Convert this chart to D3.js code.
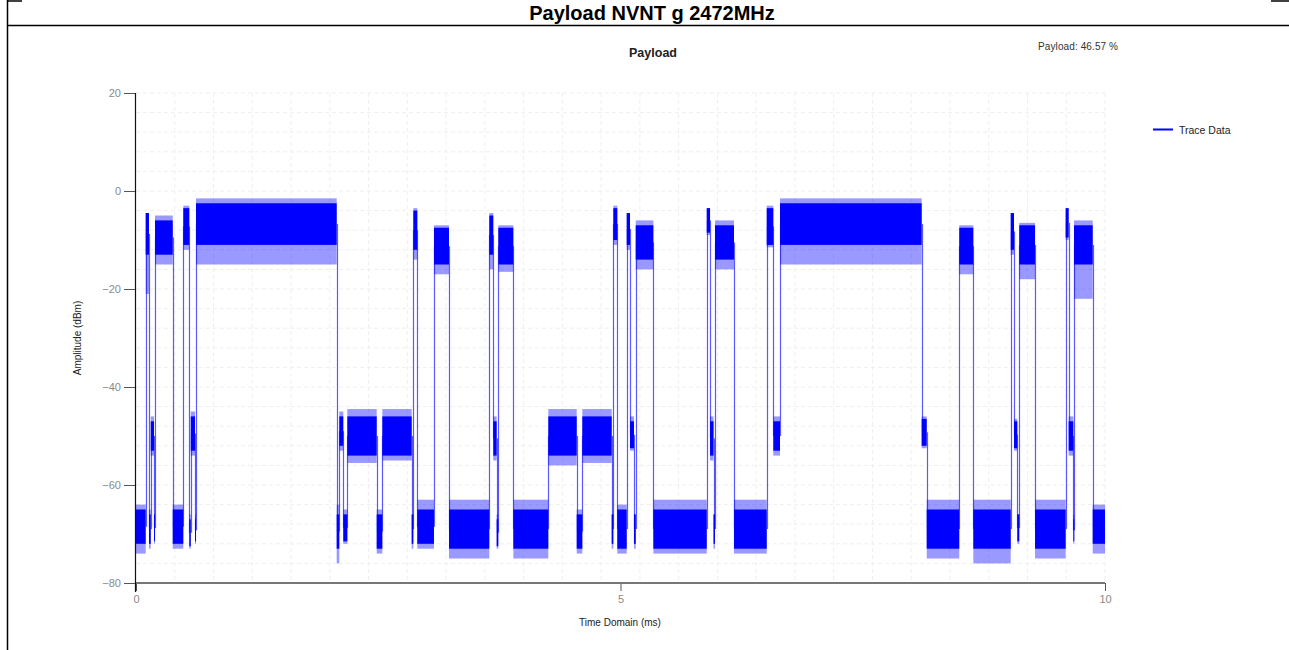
<!DOCTYPE html>
<html>
<head>
<meta charset="utf-8">
<script src="https://cdn.jsdelivr.net/npm/d3@7"></script>
<style>
  body { margin: 0; background: #fff; }
  svg { display: block; font-family: "Liberation Sans", Arial, sans-serif; }
</style>
</head>
<body>
<svg id="canvas" width="1289" height="650"></svg>
<script>
// trace: each one ends at segEnd (ms) and starts where the last ended
const segEnd = [0.100, 0.134, 0.152, 0.186, 0.196, 0.379, 0.488, 0.550, 0.565, 0.609,
    0.619, 2.071, 2.098, 2.139, 2.181, 2.484, 2.542, 2.845, 2.862, 2.903,
    3.075, 3.230, 3.646, 3.687, 3.722, 3.739, 3.894, 4.255, 4.548, 4.606,
    4.909, 4.926, 4.967, 5.064, 5.098, 5.139, 5.157, 5.339, 5.890, 5.924,
    5.960, 5.975, 6.171, 6.509, 6.577, 6.646, 8.108, 8.160, 8.496, 8.641,
    9.027, 9.061, 9.095, 9.115, 9.278, 9.594, 9.625, 9.673, 9.680, 9.873, 10.0];
// outer noise envelope (dBm)
const envHigh = [-64, -4.5, -65, -46, -66, -5, -64, -3, -66, -45,
    -66, -1.5, -64, -45, -65, -44.5, -65, -44.5, -66, -3.5,
    -63, -7, -63, -4.5, -46, -66, -7, -63, -44.5, -65,
    -44.5, -66, -3, -64, -4.5, -46, -66, -6, -63, -3.5,
    -46, -66, -6, -63, -3, -46, -1.5, -46, -63, -7,
    -63, -4.5, -46.5, -66, -6.5, -63, -3.5, -46, -66, -6, -64];
const envLow = [-74, -21, -73, -54, -72, -15, -73, -12, -73, -54,
    -72, -15, -76, -53, -72, -55.5, -74, -55, -73, -14,
    -73, -17, -75, -16, -55, -73, -16.5, -75, -56, -74,
    -55.5, -73, -11, -74, -12, -53, -73, -16, -74, -9,
    -55, -73, -16, -74, -11.5, -54, -15, -52.5, -75, -17,
    -76, -13, -53, -72, -18, -75, -10, -54, -72, -22, -74];
// dense core of the noise (dBm)
const coreHigh = [-65, -4.5, -66, -47, -66, -6, -65, -3.5, -67, -46,
    -67, -2.5, -66, -46, -66, -46, -66, -46, -66, -4,
    -65, -7.5, -65, -5, -47, -67, -7.5, -65, -46, -66,
    -46, -66, -3.5, -65, -4.5, -47, -66, -7, -65, -3.5,
    -47, -66, -7, -65, -3.5, -47, -2.5, -46.5, -65, -7.5,
    -65, -4.5, -47, -66, -7, -65, -3.5, -47, -67, -7, -65];
const coreLow = [-72, -13, -72, -53, -71.5, -13, -72, -11, -72.5, -53,
    -71.5, -11, -73, -52, -71.5, -54, -73, -54, -72, -12,
    -72, -15, -73, -13, -54, -72.5, -15, -73, -54, -73,
    -54, -72, -10, -73, -11, -52.5, -72, -14, -73, -8.5,
    -54, -72, -14, -73, -11, -53, -11, -52, -73, -15,
    -73, -12, -52.5, -71.5, -15, -73, -9.5, -53, -71.5, -15, -72];

const xTicks = [0, 5, 10];
const yTicks = [-80, -60, -40, -20, 0, 20];
const payloadPct = 46.57;

const svg = d3.select("#canvas");
const plotLeft = 136, plotRight = 1105, plotTop = 93, plotBottom = 583;
const blue = "#0000ff";

const x = d3.scaleLinear().domain([0, 10]).range([plotLeft, plotRight]);
const y = d3.scaleLinear().domain([-80, 20]).range([plotBottom, plotTop]);

const segs = segEnd.map((end, i) => ({
    start: i === 0 ? 0 : segEnd[i - 1],
    end: end,
    envHigh: envHigh[i],
    envLow: envLow[i],
    coreHigh: coreHigh[i],
    coreLow: coreLow[i]
}));

// frame
svg.append("line").attr("x1", 7.5).attr("x2", 7.5).attr("y1", 0).attr("y2", 650)
    .attr("stroke", "#000").attr("stroke-width", 1.5);
svg.append("line").attr("x1", 7).attr("x2", 22).attr("y1", 1).attr("y2", 1)
    .attr("stroke", "#000").attr("stroke-width", 1.5);
svg.append("line").attr("x1", 1271).attr("x2", 1289).attr("y1", 1).attr("y2", 1)
    .attr("stroke", "#000").attr("stroke-width", 1.5);
svg.append("line").attr("x1", 7).attr("x2", 1289).attr("y1", 25.5).attr("y2", 25.5)
    .attr("stroke", "#000").attr("stroke-width", 1.5);

svg.append("text").attr("x", 652).attr("y", 20).attr("text-anchor", "middle")
    .attr("font-size", 20).attr("font-weight", "bold").text("Payload NVNT g 2472MHz");
svg.append("text").attr("x", 653).attr("y", 57).attr("text-anchor", "middle")
    .attr("font-size", 12.5).attr("font-weight", "bold").attr("fill", "#222").text("Payload");
svg.append("text").attr("x", 1038).attr("y", 50)
    .attr("font-size", 10).attr("fill", "#333").attr("textLength", 80)
    .text(`Payload: ${payloadPct} %`);

// grid: 25 divisions each way
const grid = svg.append("g").attr("stroke", "#efefef").attr("stroke-dasharray", "4,3");
grid.selectAll(".gx").data(d3.range(1, 26).map((k) => k * 0.4)).enter().append("line")
    .attr("x1", (d) => x(d)).attr("x2", (d) => x(d)).attr("y1", plotTop).attr("y2", plotBottom);
grid.selectAll(".gy").data(d3.range(0, 25).map((k) => 20 - k * 4)).enter().append("line")
    .attr("x1", plotLeft).attr("x2", plotRight).attr("y1", (d) => y(d)).attr("y2", (d) => y(d));

// trace: sparse noise envelope, dense core, edges between bursts
const trace = svg.append("g");
trace.selectAll(".env").data(segs).enter().append("rect")
    .attr("x", (d) => x(d.start)).attr("width", (d) => Math.max(1, x(d.end) - x(d.start)))
    .attr("y", (d) => y(d.envHigh)).attr("height", (d) => y(d.envLow) - y(d.envHigh))
    .attr("fill", blue).attr("opacity", 0.4);
trace.selectAll(".core").data(segs).enter().append("rect")
    .attr("x", (d) => x(d.start)).attr("width", (d) => Math.max(1, x(d.end) - x(d.start)))
    .attr("y", (d) => y(d.coreHigh)).attr("height", (d) => y(d.coreLow) - y(d.coreHigh))
    .attr("fill", blue);
trace.selectAll(".edge").data(segs.slice(1)).enter().append("line")
    .attr("x1", (d) => Math.round(x(d.start)) + 0.5).attr("x2", (d) => Math.round(x(d.start)) + 0.5)
    .attr("y1", (d, i) => y((segs[i].coreHigh + segs[i].coreLow) / 2))
    .attr("y2", (d) => y((d.coreHigh + d.coreLow) / 2))
    .attr("stroke", blue).attr("stroke-opacity", 0.65).attr("stroke-width", 1.2);

// axes
const yAxis = d3.axisLeft(y).tickValues(yTicks).tickSize(12).tickPadding(3);
const gy = svg.append("g").attr("transform", `translate(${plotLeft},0)`).call(yAxis);
gy.select(".domain").remove();
gy.selectAll(".tick line").attr("stroke", "#555");
gy.selectAll(".tick text").attr("fill", "#8a8a8a").attr("font-size", 11)
    .attr("font-family", "Liberation Sans, Arial, sans-serif");

const xAxis = d3.axisBottom(x).tickValues(xTicks).tickSize(8).tickPadding(4);
const gx = svg.append("g").attr("transform", `translate(0,${plotBottom})`).call(xAxis);
gx.select(".domain").remove();
gx.selectAll(".tick line").attr("stroke", "#555");
gx.selectAll(".tick text").attr("fill", "#8a8a8a").attr("font-size", 11)
    .attr("font-family", "Liberation Sans, Arial, sans-serif");

svg.append("line").attr("x1", plotLeft).attr("x2", plotRight).attr("y1", plotBottom).attr("y2", plotBottom)
    .attr("stroke", "#777").attr("stroke-width", 2);
svg.append("line").attr("x1", plotLeft - 0.5).attr("x2", plotLeft - 0.5).attr("y1", plotTop).attr("y2", plotBottom + 9)
    .attr("stroke", "#111").attr("stroke-width", 1.2);

svg.append("text").attr("transform", `translate(81,338) rotate(-90)`).attr("text-anchor", "middle")
    .attr("font-size", 10).attr("fill", "#222").text("Amplitude (dBm)");
svg.append("text").attr("x", 620).attr("y", 626).attr("text-anchor", "middle")
    .attr("font-size", 10).attr("fill", "#222").text("Time Domain (ms)");

// legend
svg.append("line").attr("x1", 1153).attr("x2", 1173).attr("y1", 129.5).attr("y2", 129.5)
    .attr("stroke", blue).attr("stroke-width", 2);
svg.append("text").attr("x", 1179).attr("y", 134).attr("font-size", 10.5).attr("fill", "#222")
    .text("Trace Data");
</script>
</body>
</html>
